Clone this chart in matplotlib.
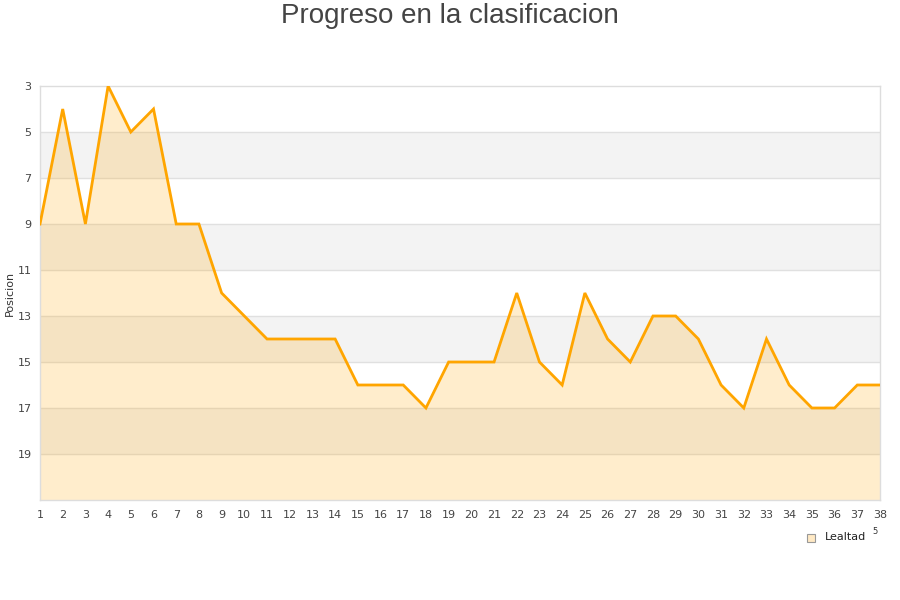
import matplotlib
matplotlib.use("Agg")
import matplotlib.pyplot as plt
from matplotlib.patches import Rectangle

jornadas = list(range(1, 39))
posiciones = [9, 4, 9, 3, 5, 4, 9, 9, 12, 13, 14, 14, 14, 14, 16, 16, 16, 17, 15, 15,
              15, 12, 15, 16, 12, 14, 15, 13, 13, 14, 16, 17, 14, 16, 17, 17, 16, 16]
y_ticks = [3, 5, 7, 9, 11, 13, 15, 17, 19]
serie = "Lealtad"
titulo = "Progreso en la clasificacion"
y_label = "Posicion"

fig = plt.figure(figsize=(9, 6), dpi=100)
ax = fig.add_axes([40/900, 1-500/600, 840/900, 414/600])

ymin, ymax = 3, 21
# alternating bands
for i, lo in enumerate(range(ymin, ymax, 2)):
    if i % 2 == 1:
        ax.axhspan(lo, lo + 2, color="#f3f3f3", zorder=0, lw=0)
for t in y_ticks[1:]:
    ax.axhline(t, color="#e0e0e0", lw=1, zorder=1)

ax.fill_between(jornadas, posiciones, ymax, color="#FFA500", alpha=0.2, lw=0, zorder=2)
ax.plot(jornadas, posiciones, color="#FFA500", lw=2, zorder=3, solid_joinstyle="miter")

ax.set_xlim(1, 38)
ax.set_ylim(ymax, ymin)
ax.set_xticks(jornadas)
ax.set_xticklabels([str(j) for j in jornadas])
ax.set_yticks(y_ticks)
ax.tick_params(length=0, labelsize=8, labelcolor="#444444", pad=7)
ax.tick_params(axis="y", pad=6)
for s in ax.spines.values():
    s.set_color("#dddddd")
    s.set_linewidth(1)
ax.set_ylabel(y_label, fontsize=8, color="#333333")
ax.yaxis.set_label_coords(-25/840, 0.5)

fig.text(0.5, 1-16/600, titulo, ha="center", va="center", fontsize=20,
         color="#444444", family="Liberation Sans")

# legend
fig.patches.append(Rectangle((807/900, 1-542/600), 8/900, 8/600, transform=fig.transFigure,
                             facecolor="#FFE9C4", edgecolor="#999999", lw=0.8))
fig.text(825/900, 1-537/600, serie, ha="left", va="center", fontsize=8, color="#222222")
fig.text(875/900, 1-532/600, "5", ha="center", va="center", fontsize=6, color="#333333")

fig.savefig("out.png", dpi=100)
